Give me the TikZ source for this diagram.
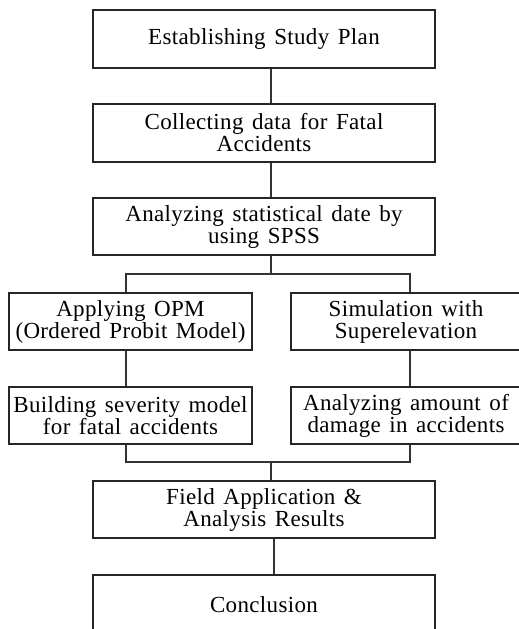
\documentclass[tikz,border=0pt]{standalone}
\usepackage{fontspec}
\setmainfont{Liberation Serif}[LetterSpace=1.5,WordSpace=1.4]
\begin{document}
\begin{tikzpicture}[x=1pt,y=-1pt,
  box/.style={draw=black!85,line width=1.1pt,align=center,inner sep=0pt,
    font=\fontsize{23}{22}\selectfont},
  wide/.style={box,minimum width=342pt},
  half/.style={box,minimum width=243pt},
  link/.style={draw=black!80,line width=1.1pt}]
\useasboundingbox (0,0) rectangle (519,629);
\begin{scope}
\clip (0,0) rectangle (519,629);
% main column
\node[wide,minimum height=58pt] (s1) at (264,39) {Establishing Study Plan};
\node[wide,minimum height=58pt] (s2) at (264,133) {Collecting data for Fatal\\Accidents};
\node[wide,minimum height=57pt] (s3) at (264,226.5) {Analyzing statistical date by\\using SPSS};
% two branches
\node[half,minimum height=57pt] (a1) at (130.5,321.5) {Applying OPM\\(Ordered Probit Model)};
\node[box,minimum width=230pt,minimum height=57pt] (b1) at (406,321.5) {Simulation with\\Superelevation};
\node[half,minimum height=57pt] (a2) at (130.5,415.5) {Building severity model\\for fatal accidents};
\node[box,minimum width=230pt,minimum height=57pt] (b2) at (406,415.5) {Analyzing amount of\\damage in accidents};
% final steps
\node[wide,minimum height=57pt] (f) at (264,509.5) {Field Application \&\\Analysis Results};
\node[wide,minimum height=60pt] (c) at (264,605) {Conclusion};
% connector columns and junctions
\coordinate (mainx) at (271,0);
\coordinate (lx) at (126,0);
\coordinate (rx) at (410,0);
\coordinate (botx) at (274,0);
\coordinate (split) at (271,274);
\coordinate (merge) at (271,462);
\draw[link] (s1.south -| mainx) -- (s2.north -| mainx);
\draw[link] (s2.south -| mainx) -- (s3.north -| mainx);
\draw[link] (s3.south -| mainx) -- (split);
\draw[link] (a1.north -| lx) |- (split) -| (b1.north -| rx);
\draw[link] (a1.south -| lx) -- (a2.north -| lx);
\draw[link] (b1.south -| rx) -- (b2.north -| rx);
\draw[link] (a2.south -| lx) |- (merge) -| (b2.south -| rx);
\draw[link] (merge) -- (f.north -| mainx);
\draw[link] (f.south -| botx) -- (c.north -| botx);
\end{scope}
\end{tikzpicture}
\end{document}
